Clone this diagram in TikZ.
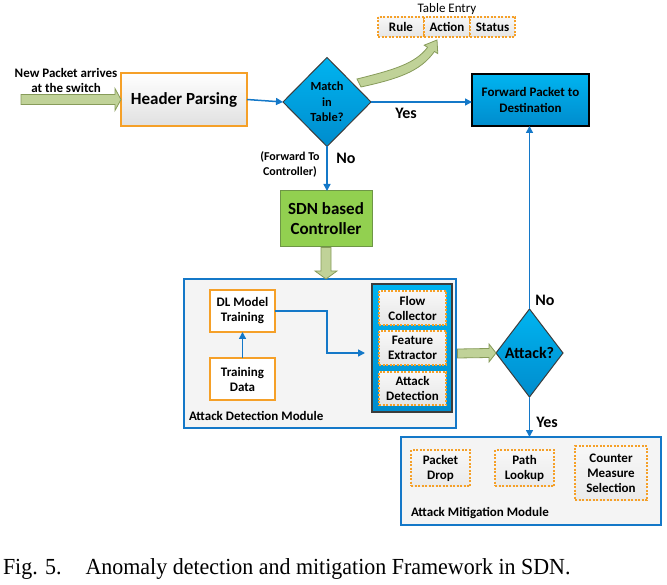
\documentclass[tikz,border=0pt]{standalone}
\usepackage{fontspec}
\setmainfont{Carlito}
\newfontfamily\capfont{Liberation Serif}[FakeStretch=0.955]
\usetikzlibrary{shapes.geometric,arrows.meta,calc}
\definecolor{cblue}{RGB}{20,120,200}
\definecolor{corange}{RGB}{245,160,40}
\definecolor{skyA}{RGB}{0,180,240}
\definecolor{skyB}{RGB}{0,140,205}
\definecolor{olivefill}{RGB}{192,210,152}
\definecolor{oliveline}{RGB}{135,155,90}
\definecolor{sdngreen}{RGB}{146,208,80}
\definecolor{sdnline}{RGB}{110,150,70}
\definecolor{panel}{RGB}{244,244,244}
\definecolor{darkframe}{RGB}{60,60,60}
\begin{document}
\begin{tikzpicture}[x=1pt,y=-1pt,
  every node/.style={inner sep=0pt,outer sep=0pt},
  small/.style={font=\bfseries\fontsize{13}{15}\selectfont,align=center},
  big/.style={font=\bfseries\fontsize{17}{20}\selectfont,align=center},
  yesno/.style={font=\bfseries\fontsize{16}{18}\selectfont},
  orangebox/.style={draw=corange,line width=1.5pt,top color=white,bottom color=white!88!black,rectangle},
  dashbox/.style={draw=corange,line width=1.3pt,dash pattern=on 2pt off 1.5pt,top color=white!97!black,bottom color=white!90!black,rectangle,small},
  skybox/.style={draw=black,line width=1.5pt,top color=skyA,bottom color=skyB,rectangle},
  decision/.style={diamond,draw=darkframe,line width=1pt,top color=skyA,bottom color=skyB,align=center},
  module/.style={draw=cblue,line width=1.8pt,fill=panel,rectangle},
  conn/.style={draw=cblue,line width=1.5pt,-{Triangle[length=7pt,width=7pt]}},
  blk/.style={draw=oliveline,line width=0.8pt,fill=olivefill,line join=miter}
]
\useasboundingbox (0,0) rectangle (667,585);

% top row
\node[small] (newp) at (66,80) {New Packet arrives\\at the switch};
\node[orangebox,minimum width=126pt,minimum height=53pt,big] (hp) at (184,99.5) {Header Parsing};
\node[decision,minimum width=88pt,minimum height=89pt,font=\bfseries\fontsize{12.4}{15.5}\selectfont] (match) at (327,102) {Match\\in\\Table?};
\node[skybox,minimum width=117pt,minimum height=52pt,font=\bfseries\fontsize{13}{16}\selectfont,align=center] (fwd) at (530.5,100) {Forward Packet to\\Destination};

% table entry
\node[dashbox,minimum width=46pt,minimum height=20pt] (rule) at (401,27) {Rule};
\node[dashbox,minimum width=46pt,minimum height=20pt] (action) at (447,27) {Action};
\node[dashbox,minimum width=45pt,minimum height=20pt] (status) at (492.5,27) {Status};
\node[font=\fontsize{13}{15}\selectfont] (tentry) at (447,9) {Table Entry};

% controller
\node[rectangle,draw=sdnline,line width=1pt,fill=sdngreen,minimum width=92pt,minimum height=56pt,big] (sdn) at (326,219) {SDN based\\Controller};

% attack detection module
\node[module,minimum width=272pt,minimum height=149pt] (adm) at (320,353.5) {};
\node[small,anchor=west] (admlbl) at (189,416) {Attack Detection Module};
\node[rectangle,draw=corange,line width=1.5pt,fill=white,minimum width=65pt,minimum height=42pt,small] (dl) at (242.5,311) {DL Model\\Training};
\node[rectangle,draw=corange,line width=1.5pt,fill=white,minimum width=65pt,minimum height=42pt,small] (td) at (242.5,379) {Training\\Data};
\node[rectangle,draw=darkframe,line width=1.5pt,top color=skyA,bottom color=skyB,minimum width=80pt,minimum height=128pt] (inner) at (412,348) {};
\node[dashbox,minimum width=67pt,minimum height=34pt] (fc) at (412.5,308) {Flow\\Collector};
\node[dashbox,minimum width=67pt,minimum height=34pt] (fe) at (412.5,348) {Feature\\Extractor};
\node[dashbox,minimum width=67pt,minimum height=33pt] (ad) at (412.5,388.5) {Attack\\Detection};

% attack decision
\node[decision,minimum width=67pt,minimum height=88pt,font=\bfseries\fontsize{16}{18}\selectfont] (attack) at (529.5,353) {Attack?};

% mitigation module
\node[module,minimum width=260pt,minimum height=88pt] (amm) at (531,481) {};
\node[small,anchor=west] (ammlbl) at (411,513) {Attack Mitigation Module};
\node[dashbox,minimum width=59pt,minimum height=36pt,top color=white!97!black,bottom color=white!92!black] (pd) at (440.5,468) {Packet\\Drop};
\node[dashbox,minimum width=59pt,minimum height=36pt,top color=white!97!black,bottom color=white!92!black] (pl) at (524.5,468) {Path\\Lookup};
\node[dashbox,minimum width=72pt,minimum height=54pt,top color=white!97!black,bottom color=white!92!black] (cms) at (611,473) {Counter\\Measure\\Selection};

% labels
\node[yesno] (yes1) at (406,113) {Yes};
\node[yesno] (no1) at (346,158) {No};
\node[font=\bfseries\fontsize{12}{15}\selectfont,align=center] (fwdctl) at (290,164) {(Forward To\\Controller)};
\node[yesno] (no2) at (545,300) {No};
\node[yesno] (yes2) at (547,422) {Yes};

% connectors
\draw[conn] (hp.east) -- (match.west);
\draw[conn] (match.east) -- (match.east -| fwd.west);
\draw[conn] (match.south) -- (match.south |- sdn.north);
\draw[conn] (td.north) -- (dl.south);
\draw[conn,shorten >=7pt] (dl.east) -- ++(52,0) |- ([yshift=-5pt]inner.west);
\draw[conn] (attack.north) -- (attack.north |- fwd.south);
\draw[conn] (attack.south) -- (attack.south |- amm.north);

% block arrows
\draw[blk] ($(hp.west)+(-100,-5)$) -- ($(hp.west)+(-6,-5)$) -- ($(hp.west)+(-6,-11)$) -- (hp.west) -- ($(hp.west)+(-6,11)$) -- ($(hp.west)+(-6,5)$) -- ($(hp.west)+(-100,5)$) -- cycle;
\coordinate (t2) at (sdn.south |- adm.north);
\draw[blk] ($(sdn.south)+(-5,0.5)$) -- ($(t2)+(-5,-8)$) -- ($(t2)+(-11,-8)$) -- (t2) -- ($(t2)+(11,-8)$) -- ($(t2)+(5,-8)$) -- ($(sdn.south)+(5,0.5)$) -- cycle;
\draw[blk] ($(adm.east)+(1.5,-4.5)$) -- ($(attack.west)+(-7,-4.5)$) -- ($(attack.west)+(-7,-9)$) -- (attack.west) -- ($(attack.west)+(-7,9)$) -- ($(attack.west)+(-7,4.5)$) -- ($(adm.east)+(1.5,4.5)$) -- cycle;
\draw[blk] (357,79) .. controls (393,70) and (415,64) .. (427.6,47.3) -- (424.2,45.2) -- (437,40) -- (437.8,53.6) -- (434.4,51.5) .. controls (420,72) and (397,79) .. (361,87) -- cycle;

% caption
\node[anchor=west,font=\capfont\fontsize{23}{26}\selectfont] (cap) at (3,569) {Fig. 5.\hskip 24pt Anomaly detection and mitigation Framework in SDN.};
\end{tikzpicture}
\end{document}
